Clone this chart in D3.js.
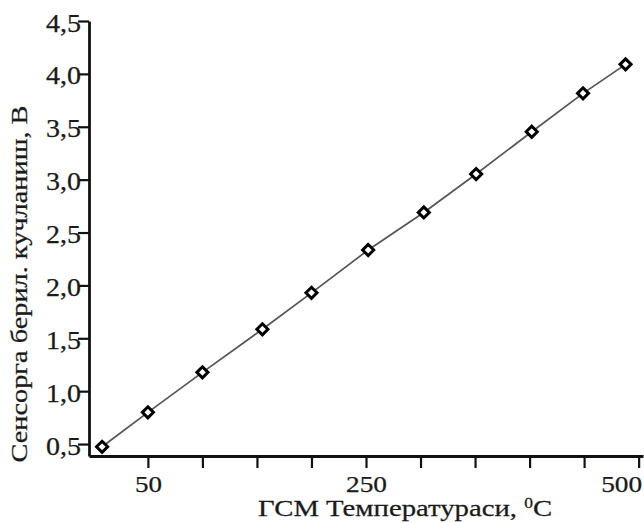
<!DOCTYPE html>
<html lang="uz">
<head>
<meta charset="UTF-8">
<title>Сенсорга берил. кучланиш</title>
<style>
  body { margin: 0; background: #fff; }
  text { font-family: "Liberation Serif", "Times New Roman", serif; fill: #1a1a1a; stroke: #1a1a1a; stroke-width: 0.25px; }
</style>
</head>
<body>
<div id="graph"></div>
<script src="https://d3js.org/d3.v7.min.js"></script>
<script>
// данные
const temps = [8, 50, 100, 155, 200, 252, 303, 351, 402, 449, 488];
const volts = [0.474, 0.80, 1.178, 1.585, 1.93, 2.335, 2.69, 3.053, 3.453, 3.816, 4.09];
const xTicks = [50, 100, 150, 200, 250, 300, 350, 400, 450, 500];
const xLabeled = [50, 250, 500];
const yTicks = [0.5, 1.0, 1.5, 2.0, 2.5, 3.0, 3.5, 4.0, 4.5];

const W = 644, H = 523;
const LEFT = 89, RIGHT = 643, TOP = 21, BOTTOM = 456;

const x = d3.scaleLinear().domain([-4, 504]).range([LEFT, RIGHT]);
const y = d3.scaleLinear().domain([0.387, 4.5]).range([BOTTOM, TOP]);

const svg = d3.select("#graph").append("svg")
  .attr("width", W).attr("height", H);

// линия
const pts = temps.map((t, i) => ({ t, v: volts[i] }));
svg.append("path")
  .datum(pts)
  .attr("fill", "none")
  .attr("stroke", "#555")
  .attr("stroke-width", 1.7)
  .attr("d", d3.line().x(d => x(d.t)).y(d => y(d.v)));

// оси
const xAxis = svg.append("g")
  .attr("transform", `translate(0,${BOTTOM})`)
  .call(d3.axisBottom(x).tickValues(xTicks).tickSize(12).tickSizeOuter(0)
    .tickFormat(d => xLabeled.includes(d) ? d : ""));
xAxis.select(".domain").attr("stroke-width", 2.8).attr("stroke", "#111");
xAxis.selectAll(".tick line").attr("stroke-width", 2.2).attr("stroke", "#111");
xAxis.selectAll(".tick text")
  .attr("font-size", 23).attr("y", 20).attr("dy", "0.71em")
  .attr("textLength", d => d === 50 ? 27 : 41).attr("lengthAdjust", "spacingAndGlyphs")
  .attr("fill", "#1a1a1a").style("font-family", "Liberation Serif, serif");
// последняя подпись прижата к правому краю
xAxis.selectAll(".tick text").filter(d => d === 500)
  .attr("text-anchor", "end").attr("x", 3);

const yAxis = svg.append("g")
  .attr("transform", `translate(${LEFT},0)`)
  .call(d3.axisLeft(y).tickValues(yTicks).tickSize(11).tickSizeOuter(0)
    .tickFormat(d => d3.format(".1f")(d).replace(".", ",")));
yAxis.select(".domain").attr("stroke-width", 2.8).attr("stroke", "#111");
yAxis.selectAll(".tick line").attr("stroke-width", 2.2).attr("stroke", "#111");
yAxis.selectAll(".tick text")
  .attr("font-size", 25).attr("x", -8).attr("dy", "0.4em")
  .attr("textLength", 35).attr("lengthAdjust", "spacingAndGlyphs")
  .attr("fill", "#1a1a1a").style("font-family", "Liberation Serif, serif");

// маркеры
const sym = d3.symbol().type(d3.symbolDiamond2).size(78);
svg.selectAll(".pt")
  .data(pts)
  .enter().append("path")
  .attr("class", "pt")
  .attr("transform", d => `translate(${x(d.t)},${y(d.v)})`)
  .attr("d", sym)
  .attr("fill", "#fff")
  .attr("stroke", "#000")
  .attr("stroke-width", 3);

// подписи осей
const xl = svg.append("text")
  .attr("x", 258).attr("y", 516)
  .attr("font-size", 23)
  .attr("transform", "translate(258,0) scale(1.25,1) translate(-258,0)");
xl.append("tspan").text("ГСМ Температураси, ");
xl.append("tspan").attr("font-size", 14).attr("dy", -8).text("0");
xl.append("tspan").attr("dy", 8).text("C");

svg.append("text")
  .attr("transform", "translate(27,284) rotate(-90)")
  .attr("text-anchor", "middle")
  .attr("font-size", 23)
  .attr("textLength", 357).attr("lengthAdjust", "spacingAndGlyphs")
  .text("Сенсорга берил. кучланиш, В");
</script>
</body>
</html>
